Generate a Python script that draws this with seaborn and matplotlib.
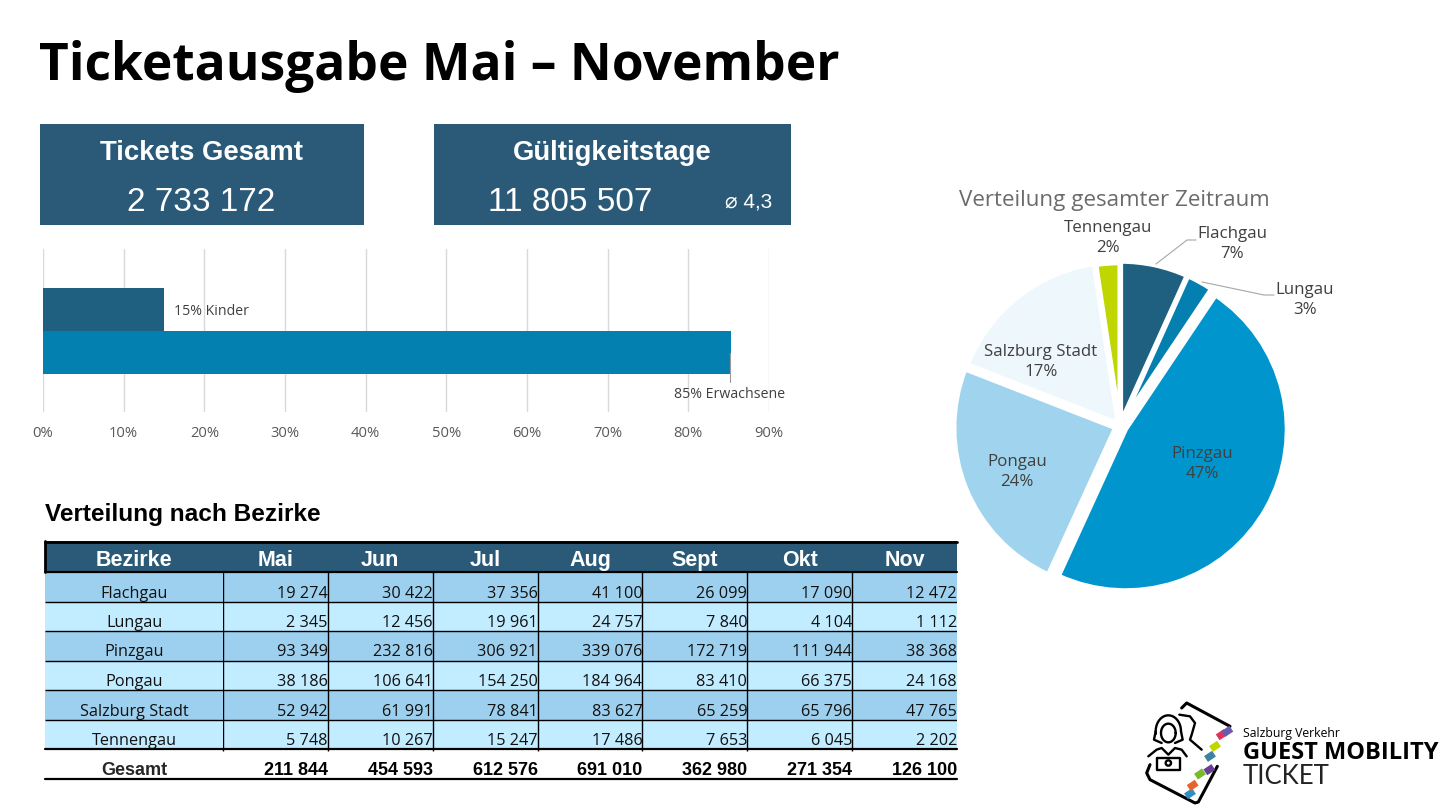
import numpy as np
import pandas as pd
import matplotlib
matplotlib.use("Agg")
import matplotlib.pyplot as plt
from matplotlib.colors import ListedColormap
import seaborn as sns

# Daten
bezirke = ["Flachgau", "Lungau", "Pinzgau", "Pongau", "Salzburg Stadt", "Tennengau"]
monate = ["Mai", "Jun", "Jul", "Aug", "Sept", "Okt", "Nov"]
flachgau = [19274, 30422, 37356, 41100, 26099, 17090, 12472]
lungau = [2345, 12456, 19961, 24757, 7840, 4104, 1112]
pinzgau = [93349, 232816, 306921, 339076, 172719, 111944, 38368]
pongau = [38186, 106641, 154250, 184964, 83410, 66375, 24168]
salzburg = [52942, 61991, 78841, 83627, 65259, 65796, 47765]
tennengau = [5748, 10267, 15247, 17486, 7653, 6045, 2202]
gesamt = [211844, 454593, 612576, 691010, 362980, 271354, 126100]

anteil_gruppe = ["Kinder", "Erwachsene"]
anteil_wert = [15, 85.3]
anteil_label = ["15% Kinder", "85% Erwachsene"]
x_ticks = [0, 10, 20, 30, 40, 50, 60, 70, 80, 90]

pie_werte = [184013, 72575, 1295193, 657994, 456221, 64648]
pie_prozent = ["7%", "3%", "47%", "24%", "17%", "2%"]

W, H = 1452, 809
SANS = "Open Sans"
ARIAL = "Liberation Sans"
BLAU = "#2a5a78"

sns.set_theme(style="white")
plt.rcParams["font.family"] = [SANS, "DejaVu Sans"]


def fmt(n):
    return f"{n:,}".replace(",", " ")


def px_axes(x0, y0, x1, y1, **kw):
    # Achse ueber Pixelkoordinaten anlegen (y von oben)
    return fig.add_axes([x0 / W, 1 - y1 / H, (x1 - x0) / W, (y1 - y0) / H], **kw)


fig = plt.figure(figsize=(W / 100, H / 100), dpi=100, facecolor="white")

# Overlay fuer Texte und Kaesten
ov = fig.add_axes([0, 0, 1, 1], zorder=5)
ov.set_xlim(0, W)
ov.set_ylim(H, 0)
ov.axis("off")
ov.patch.set_alpha(0)

ov.text(39, 79.5, "Ticketausgabe Mai – November", fontsize=37.1, fontweight="bold",
        va="baseline", ha="left", color="black", family=SANS)

# KPI Kaesten
for x0, x1 in [(40, 364), (434, 791)]:
    ov.fill_between([x0, x1], 124, 225, color=BLAU, lw=0)
ov.text(201, 153, "Tickets Gesamt", color="white", fontsize=19.8, fontweight="bold",
        family=ARIAL, ha="center", va="center")
ov.text(201, 202, "2 733 172", color="white", fontsize=24, family=ARIAL, ha="center", va="center")
ov.text(612, 153, "Gültigkeitstage", color="white", fontsize=19.8, fontweight="bold",
        family=ARIAL, ha="center", va="center")
ov.text(570, 202, "11 805 507", color="white", fontsize=24, family=ARIAL, ha="center", va="center")
ov.text(749, 202, "⌀ 4,3", color="white", fontsize=15, family=[ARIAL, "DejaVu Sans"],
        ha="center", va="center")

# Balken Kinder / Erwachsene
bx = px_axes(43, 249, 769, 412)
df_anteil = pd.DataFrame({"gruppe": anteil_gruppe, "wert": anteil_wert})
sns.barplot(data=df_anteil, y="gruppe", x="wert", hue="gruppe", orient="h", width=1, saturation=1,
            palette=["#1f6080", "#0380b0"], legend=False, ax=bx, zorder=3, linewidth=0)
bx.set_xlim(0, 90)
bx.set_ylim(0.5 + (412 - 331) / 43, 0.5 - (331 - 249) / 43)
bx.set_xticks(x_ticks)
bx.set_xticklabels([f"{t}%" for t in x_ticks], fontsize=10.6, color="#595959")
bx.set_yticks([])
bx.set_xlabel("")
bx.set_ylabel("")
bx.grid(axis="x", color="#d9d9d9", lw=1, zorder=0)
bx.tick_params(axis="x", length=0, pad=10)
for sp in bx.spines.values():
    sp.set_visible(False)
bx.patch.set_alpha(0)
ov.text(174, 311, anteil_label[0], fontsize=10.2, color="#404040", va="center")
ov.text(730, 394, anteil_label[1], fontsize=10.2, color="#404040", va="center", ha="center")
ov.plot([729.5, 729.5], [353, 382], color="#9a9a9a", lw=0.8)

# Tabelle
ov.text(45, 515, "Verteilung nach Bezirke", fontsize=17.6, fontweight="bold", family=ARIAL,
        va="center", color="black")
ov.fill_between([45, 957], 541, 572, color=BLAU, lw=0)
ov.plot([45, 957], [541.5, 541.5], color="black", lw=2)
ov.plot([45, 957], [572, 572], color="black", lw=1.6)
ov.plot([45, 45], [541, 572], color="black", lw=2)
ov.text(134, 566, "Bezirke", color="white", fontsize=15.5, fontweight="bold", family=ARIAL,
        ha="center", va="baseline")

zeilen = [flachgau, lungau, pinzgau, pongau, salzburg, tennengau]
band = np.array([[i % 2] * len(monate) for i in range(len(bezirke))])
band_cmap = ListedColormap(["#9dd0ee", "#c2ecff"])

ax_name = px_axes(45, 572, 223, 749)
sns.heatmap(band[:, :1], cmap=band_cmap, cbar=False, linewidths=0, ax=ax_name,
            xticklabels=False, yticklabels=False)
ax_name.hlines(range(1, 6), 0, 1, color="black", lw=1)
ax_name.set_xlabel("")
ax_name.set_ylabel("")

ax_tab = px_axes(223, 572, 957, 749)
sns.heatmap(band, cmap=band_cmap, cbar=False, linewidths=0, ax=ax_tab,
            xticklabels=False, yticklabels=False)
ax_tab.hlines(range(1, 6), 0, 7, color="black", lw=1)
ax_tab.vlines(range(0, 7), 0, 6, color="black", lw=1)
ax_tab.set_xlabel("")
ax_tab.set_ylabel("")

col_breite = (957 - 223) / 7
zeile_h = (749 - 572) / 6
for j, m in enumerate(monate):
    ov.text(223 + (j + 0.5) * col_breite, 566, m, color="white", fontsize=15.5, fontweight="bold",
            family=ARIAL, ha="center", va="baseline")
    ov.text(223 + (j + 1) * col_breite, 775, fmt(gesamt[j]), fontsize=13, fontweight="bold",
            family=ARIAL, ha="right", va="baseline", color="black")
for i, name in enumerate(bezirke):
    y = 597.5 + i * zeile_h
    ov.text(134, y, name, fontsize=11.7, ha="center", va="baseline", color="#111111")
    for j, v in enumerate(zeilen[i]):
        ov.text(223 + (j + 1) * col_breite, y, fmt(v), fontsize=11.7, ha="right", va="baseline",
                color="#111111")
ov.text(134, 775, "Gesamt", fontsize=13, fontweight="bold", family=ARIAL, ha="center", va="baseline")
ov.plot([45, 957], [749, 749], color="black", lw=1.6)
ov.plot([45, 957], [779, 779], color="black", lw=1.6)
ov.vlines([223 + j * col_breite for j in range(7)], 749, 751, color="black", lw=1)

# Kreisdiagramm
pie_farben = ["#1f6080", "#0380b0", "#0095cc", "#a0d3ee", "#eef7fc", "#c0d600"]
pie_explode = [0.02, 0.02, 0.04, 0.03, 0.02, 0.01]
px0, py0, pr = 1120, 426, 161.5
pax = px_axes(px0 - 190, py0 - 190, px0 + 190, py0 + 190)
pax.pie(pie_werte, colors=pie_farben, explode=pie_explode, startangle=90, counterclock=False,
        radius=1.0, wedgeprops={"edgecolor": "white", "linewidth": 3.5})
pax.set_xlim(-190 / pr, 190 / pr)
pax.set_ylim(-190 / pr, 190 / pr)
pax.patch.set_alpha(0)

ov.text(1114, 200, "Verteilung gesamter Zeitraum", fontsize=16.1, color="#6b6b6b", ha="center", va="center")
pie_pos = [(1232, 244), (1305, 300), (1202, 464), (1017, 472), (1041, 362), (1108, 238)]
for name, pct, (x, y), in zip(bezirke, pie_prozent, pie_pos):
    ov.text(x, y, f"{name}\n{pct}", fontsize=12.2, color="#404040", ha="center", va="center", linespacing=1.3)
ov.plot([1156, 1187, 1196], [264, 240, 240], color="#a6a6a6", lw=0.8)
ov.plot([1202, 1264, 1274], [282, 295, 295], color="#a6a6a6", lw=0.8)


# Logo: Koordinaten aus dem Zoom (3x ab 1140/698)
def logo(pts, **kw):
    xs, ys = zip(*pts)
    ov.plot(1140 + np.array(xs) / 3, 698 + np.array(ys) / 3, color=kw.pop("color", "black"),
            lw=kw.pop("lw", 1.7), solid_capstyle=kw.pop("cap", "round"), **kw)


logo([(125, 30), (140, 15), (270, 85)], lw=2.2)
logo([(232, 205), (175, 312), (165, 315), (30, 245), (20, 225), (30, 200)], lw=2.2)
streifen = [("#2f8fc0", 150, 287), ("#e8632c", 158, 262), ("#7ab82e", 180, 228), ("#6a3d9a", 208, 215),
            ("#3f7f9f", 210, 175), ("#c0d600", 225, 145), ("#e0325a", 245, 110), ("#6a5bb0", 262, 100)]
for c, sx, sy in streifen:
    logo([(sx - 12, sy + 8), (sx + 12, sy - 8)], color=c, lw=5, cap="butt")
th = np.linspace(0, 2 * np.pi, 60)
logo(list(zip(85 + 22 * np.cos(th), 105 + 28 * np.sin(th))))
logo(list(zip(85 + 38 * np.cos(th[28:60]), 100 + 48 * np.sin(th[28:60]))))
logo([(47, 100), (42, 125), (65, 135)])
logo([(123, 100), (128, 125), (105, 135)])
logo([(50, 180), (120, 180), (120, 215), (50, 215), (50, 180)])
logo(list(zip(85 + 8 * np.cos(th), 195 + 8 * np.sin(th))))
logo([(25, 175), (50, 155), (65, 150), (85, 170), (105, 150), (125, 155), (140, 175)])
logo([(118, 50), (150, 55), (165, 75), (155, 110), (150, 125), (185, 155)])
ov.text(1243, 733, "Salzburg Verkehr", fontsize=8.8, color="black", va="center")
ov.text(1243, 753, "GUEST MOBILITY", fontsize=17, fontweight="bold", color="black", va="center")
ov.text(1243, 777, "TICKET", fontsize=18.5, color="#222222", va="center", family="Lato")

fig.savefig("out.png", dpi=100)
